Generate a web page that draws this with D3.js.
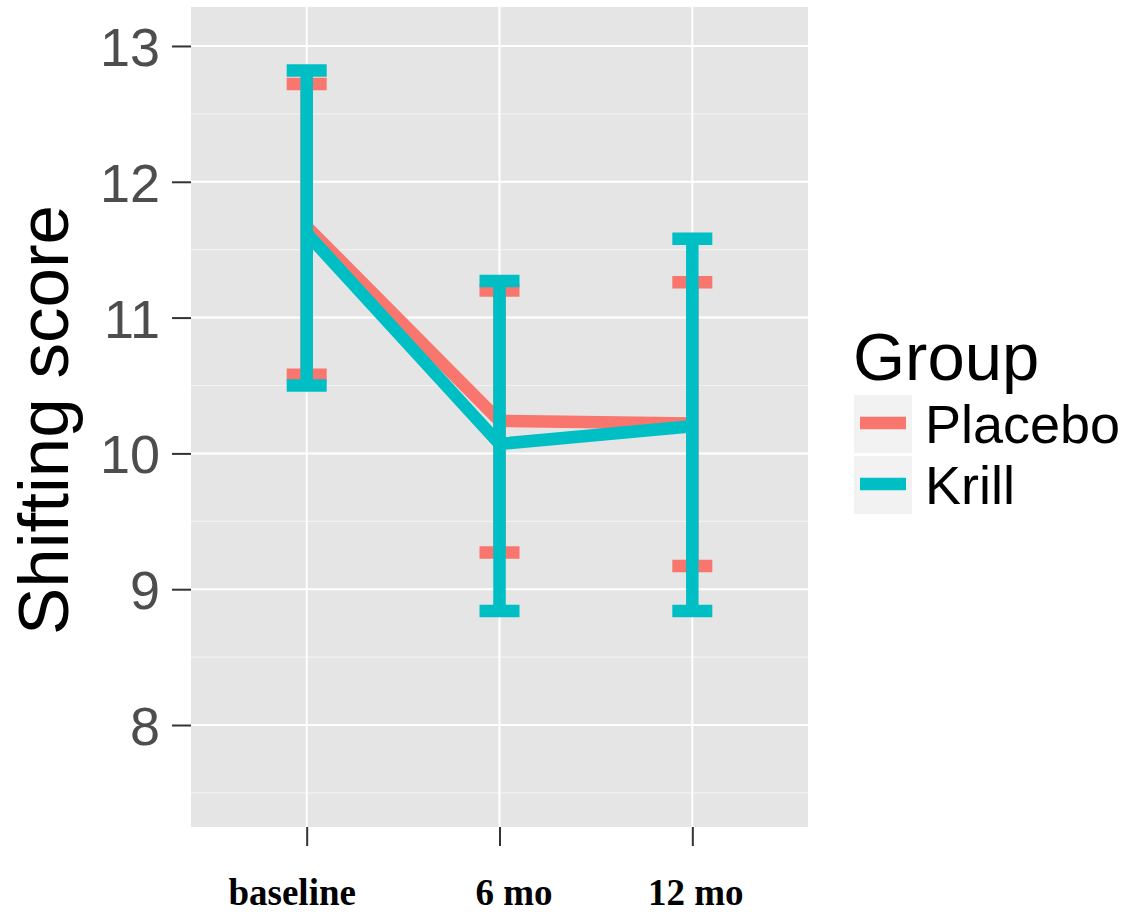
<!DOCTYPE html>
<html lang="en">
<head>
<meta charset="utf-8">
<title>Shifting score</title>
<script src="https://d3js.org/d3.v7.min.js"></script>
<style>
  html, body { margin: 0; padding: 0; background: #fff; }
  text { font-family: Arial, "Liberation Sans", sans-serif; }
  .xlab { font-family: "Liberation Serif", "Times New Roman", serif; font-weight: bold; }
</style>
</head>
<body>
<script>
// data
var times = ["baseline", "6 mo", "12 mo"];
var groups = ["Placebo", "Krill"];
var colours = ["#F8766D", "#00BFC4"];

var placeboMean  = [11.67, 10.24, 10.22];
var placeboLower = [10.58, 9.27, 9.17];
var placeboUpper = [12.72, 11.20, 11.26];

var krillMean  = [11.62, 10.07, 10.20];
var krillLower = [10.50, 8.84, 8.84];
var krillUpper = [12.82, 11.27, 11.58];

var yTicks = [8, 9, 10, 11, 12, 13];
var yMinor = [7.5, 8.5, 9.5, 10.5, 11.5, 12.5];

var series = [
  { name: groups[0], colour: colours[0], mean: placeboMean, lower: placeboLower, upper: placeboUpper },
  { name: groups[1], colour: colours[1], mean: krillMean, lower: krillLower, upper: krillUpper }
];

var W = 1128, H = 912;
var panel = { left: 191, right: 808, top: 7, bottom: 827 };

var svg = d3.select("body").append("svg").attr("width", W).attr("height", H);

var x = d3.scalePoint().domain(times).range([panel.left, panel.right]).padding(0.6);
var y = d3.scaleLinear().domain([7.249, 13.287]).range([panel.bottom, panel.top]);

// panel
svg.append("rect")
  .attr("x", panel.left).attr("y", panel.top)
  .attr("width", panel.right - panel.left).attr("height", panel.bottom - panel.top)
  .attr("fill", "#E5E5E5");

var grid = svg.append("g");
grid.selectAll("line.minor").data(yMinor).enter().append("line")
  .attr("x1", panel.left).attr("x2", panel.right)
  .attr("y1", d => y(d)).attr("y2", d => y(d))
  .attr("stroke", "#F2F2F2").attr("stroke-width", 1.2);
grid.selectAll("line.major").data(yTicks).enter().append("line")
  .attr("x1", panel.left).attr("x2", panel.right)
  .attr("y1", d => y(d)).attr("y2", d => y(d))
  .attr("stroke", "#fff").attr("stroke-width", 2);
grid.selectAll("line.vmajor").data(times).enter().append("line")
  .attr("x1", d => x(d)).attr("x2", d => x(d))
  .attr("y1", panel.top).attr("y2", panel.bottom)
  .attr("stroke", "#fff").attr("stroke-width", 2);

// axes
var yAxis = svg.append("g")
  .attr("transform", "translate(" + panel.left + ",0)")
  .call(d3.axisLeft(y).tickValues(yTicks).tickSize(19).tickPadding(12).tickFormat(d3.format("d")));
yAxis.select(".domain").remove();
yAxis.selectAll("line").attr("stroke", "#333").attr("stroke-width", 2);
yAxis.selectAll("text").attr("font-size", 54).attr("fill", "#4D4D4D")
  .attr("font-family", "Arial, 'Liberation Sans', sans-serif").attr("dy", "0.36em");

var xAxis = svg.append("g")
  .attr("transform", "translate(0," + panel.bottom + ")")
  .call(d3.axisBottom(x).tickSize(19).tickPadding(0));
xAxis.select(".domain").remove();
xAxis.selectAll("line").attr("stroke", "#333").attr("stroke-width", 2);
// the labels in the original sit a little off their ticks
var labelNudge = { "baseline": -15, "6 mo": 14, "12 mo": 3 };
xAxis.selectAll("text").attr("class", "xlab").attr("font-size", 37).attr("fill", "#000")
  .attr("y", 78).attr("dy", 0)
  .attr("dx", d => labelNudge[d]);

svg.append("text")
  .attr("transform", "translate(68,420) rotate(-90)")
  .attr("text-anchor", "middle")
  .attr("font-size", 71)
  .attr("fill", "#000")
  .text("Shifting score");

// series
var lw = 12.5, cap = 20;
var line = d3.line().x((d, i) => x(times[i])).y(d => y(d));

series.forEach(function(s) {
  var g = svg.append("g");
  g.append("path")
    .attr("d", line(s.mean))
    .attr("fill", "none").attr("stroke", s.colour)
    .attr("stroke-width", lw).attr("stroke-linejoin", "round");
  g.selectAll("path.err").data(times).enter().append("path")
    .attr("d", function(t, i) {
      var cx = x(t), yt = y(s.upper[i]), yb = y(s.lower[i]);
      return "M" + (cx - cap) + "," + yt + "H" + (cx + cap) +
             "M" + cx + "," + yt + "V" + yb +
             "M" + (cx - cap) + "," + yb + "H" + (cx + cap);
    })
    .attr("fill", "none").attr("stroke", s.colour)
    .attr("stroke-width", lw).attr("stroke-linecap", "butt");
});

// legend
var legend = svg.append("g");
legend.append("text")
  .attr("x", 853).attr("y", 380)
  .attr("font-size", 67).attr("fill", "#000")
  .text("Group");
var key = legend.selectAll("g.key").data(series).enter().append("g")
  .attr("transform", (d, i) => "translate(853," + (394 + i * 61) + ")");
key.append("rect")
  .attr("x", 0).attr("y", 0).attr("width", 60).attr("height", 60)
  .attr("fill", "#F2F2F2").attr("stroke", "#fff").attr("stroke-width", 2);
key.append("line")
  .attr("x1", 7).attr("x2", 53).attr("y1", 29).attr("y2", 29)
  .attr("stroke", d => d.colour).attr("stroke-width", lw);
key.append("text")
  .attr("x", 72).attr("y", 49)
  .attr("font-size", 54).attr("fill", "#000")
  .text(d => d.name);
</script>
</body>
</html>
